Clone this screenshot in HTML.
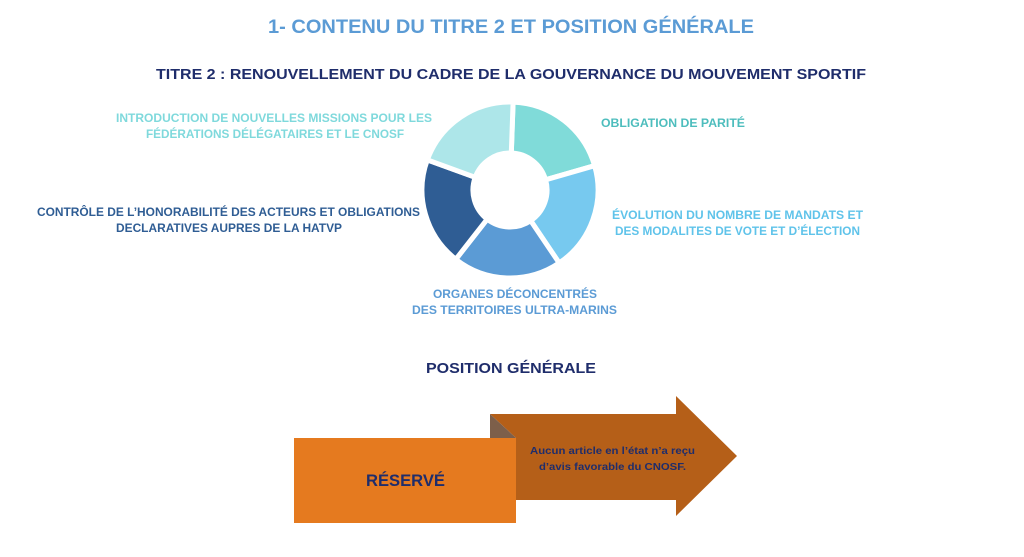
<!DOCTYPE html>
<html><head><meta charset="utf-8"><style>
html,body{margin:0;padding:0;background:#fff;width:1024px;height:557px;overflow:hidden}
svg{display:block}
text{font-family:"Liberation Sans",sans-serif;font-weight:bold}
</style></head><body>
<svg width="1024" height="557" viewBox="0 0 1024 557">
<text x="268" y="33" textLength="486" lengthAdjust="spacingAndGlyphs" font-size="19" fill="#5b9bd5">1- CONTENU DU TITRE 2 ET POSITION GÉNÉRALE</text>
<text x="156" y="79" textLength="710" lengthAdjust="spacingAndGlyphs" font-size="14.5" fill="#1f2d6b">TITRE 2 : RENOUVELLEMENT DU CADRE DE LA GOUVERNANCE DU MOUVEMENT SPORTIF</text>

<g stroke="#fff" stroke-width="5" stroke-linejoin="round">
<path d="M513.1,102.1 A88,88 0 0 1 594.6,165.7 L545.6,179.8 A37,37 0 0 0 511.3,153 Z" fill="#80dbd9"/>
<path d="M594.6,165.7 A88,88 0 0 1 559.2,263 L530.7,220.7 A37,37 0 0 0 545.6,179.8 Z" fill="#77c9ef"/>
<path d="M559.2,263 A88,88 0 0 1 455.8,259.3 L487.2,219.2 A37,37 0 0 0 530.7,220.7 Z" fill="#5b9bd5"/>
<path d="M455.8,259.3 A88,88 0 0 1 427.3,159.9 L475.2,177.3 A37,37 0 0 0 487.2,219.2 Z" fill="#2f5d94"/>
<path d="M427.3,159.9 A88,88 0 0 1 513.1,102.1 L511.3,153 A37,37 0 0 0 475.2,177.3 Z" fill="#ade6e9"/>
</g>

<g font-size="11.5" lengthAdjust="spacingAndGlyphs">
<text x="116" y="122" textLength="316" lengthAdjust="spacingAndGlyphs" fill="#7fd9dc">INTRODUCTION DE NOUVELLES MISSIONS POUR LES</text>
<text x="146" y="138" textLength="258" lengthAdjust="spacingAndGlyphs" fill="#7fd9dc">FÉDÉRATIONS DÉLÉGATAIRES ET LE CNOSF</text>
<text x="601" y="127" textLength="144" lengthAdjust="spacingAndGlyphs" fill="#4dbdbd">OBLIGATION DE PARITÉ</text>
<text x="37" y="216" textLength="383" lengthAdjust="spacingAndGlyphs" fill="#2f5d94">CONTRÔLE DE L’HONORABILITÉ DES ACTEURS ET OBLIGATIONS</text>
<text x="116" y="232" textLength="226" lengthAdjust="spacingAndGlyphs" fill="#2f5d94">DECLARATIVES AUPRES DE LA HATVP</text>
<text x="612" y="219" textLength="251" lengthAdjust="spacingAndGlyphs" fill="#5fc3ea">ÉVOLUTION DU NOMBRE DE MANDATS ET</text>
<text x="615" y="235" textLength="245" lengthAdjust="spacingAndGlyphs" fill="#5fc3ea">DES MODALITES DE VOTE ET D’ÉLECTION</text>
<text x="433" y="298" textLength="164" lengthAdjust="spacingAndGlyphs" fill="#5b9bd5">ORGANES DÉCONCENTRÉS</text>
<text x="412" y="314" textLength="205" lengthAdjust="spacingAndGlyphs" fill="#5b9bd5">DES TERRITOIRES ULTRA-MARINS</text>
</g>

<text x="426" y="373" textLength="170" lengthAdjust="spacingAndGlyphs" font-size="15" fill="#1f2d6b">POSITION GÉNÉRALE</text>

<path d="M490,414 L676,414 L676,396 L737,456 L676,516 L676,500 L516,500 L516,438 Z" fill="#b55f18"/>
<path d="M490,414 L516,438 L490,438 Z" fill="#7d5f4a"/>
<rect x="294" y="438" width="222" height="85" fill="#e57a1f"/>
<text x="366" y="486" textLength="79" lengthAdjust="spacingAndGlyphs" font-size="17" fill="#1f2d6b">RÉSERVÉ</text>
<text x="530" y="454" textLength="165" lengthAdjust="spacingAndGlyphs" font-size="10.5" fill="#1f2d6b">Aucun article en l’état n’a reçu</text>
<text x="539" y="470" textLength="147" lengthAdjust="spacingAndGlyphs" font-size="10.5" fill="#1f2d6b">d’avis favorable du CNOSF.</text>
</svg>
</body></html>
